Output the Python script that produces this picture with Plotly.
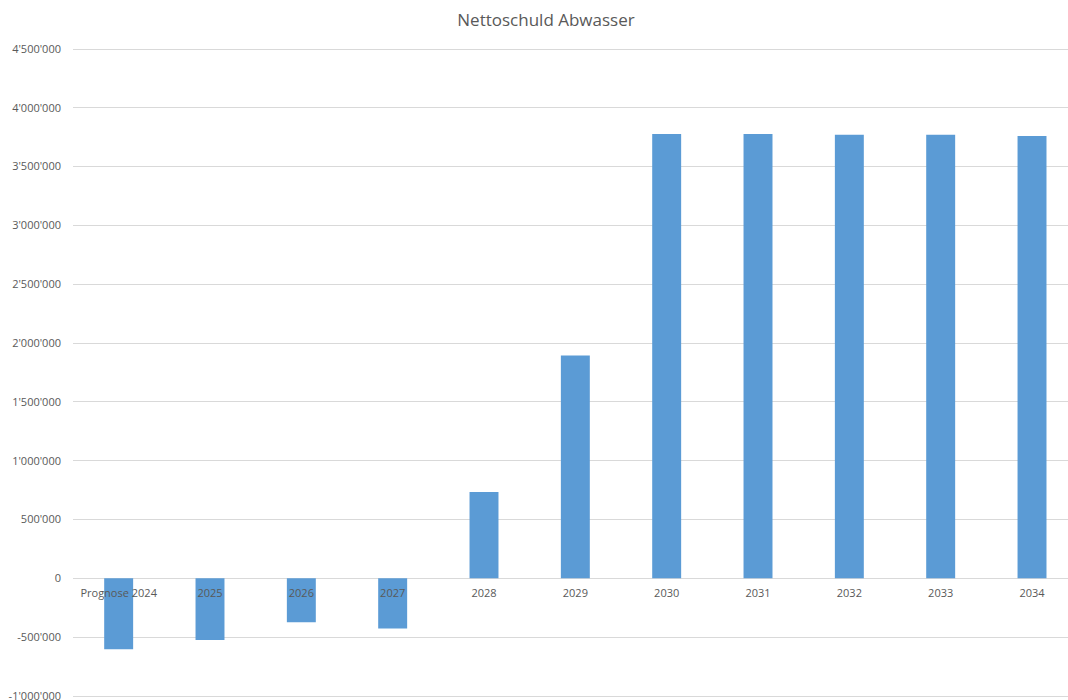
import plotly.graph_objects as go

categories = ["Prognose 2024", "2025", "2026", "2027", "2028", "2029",
              "2030", "2031", "2032", "2033", "2034"]
nettoschuld = [-603000, -523000, -373000, -427000, 734000, 1894000,
               3778000, 3778000, 3770000, 3770000, 3761000]
y_tickvals = [-1000000, -500000, 0, 500000, 1000000, 1500000, 2000000,
              2500000, 3000000, 3500000, 4000000, 4500000]
y_ticktext = ["-1'000'000", "-500'000", "0", "500'000", "1'000'000", "1'500'000",
              "2'000'000", "2'500'000", "3'000'000", "3'500'000", "4'000'000", "4'500'000"]

pad = 25500
ymin, ymax = -1000000 - pad, 4500000 + pad

fig = go.Figure(go.Bar(
    x=categories, y=nettoschuld,
    marker=dict(color="#5B9BD5", line=dict(width=0)),
    width=0.317,
))

font = "Open Sans"
fig.update_layout(
    width=1068, height=700,
    paper_bgcolor="white", plot_bgcolor="white",
    margin=dict(l=73, r=0, t=46, b=1, autoexpand=False),
    showlegend=False,
    title=dict(text="Nettoschuld Abwasser", x=546 / 1068, xanchor="center",
               y=1 - 20 / 700, yanchor="middle", automargin=False,
               font=dict(family=font, size=17, color="#595959")),
    xaxis=dict(
        type="category", range=[-0.5, 10.394], automargin=False,
        anchor="free", position=(0 - ymin) / (ymax - ymin),
        showgrid=False, showline=False, zeroline=False,
        ticks="", ticklabelstandoff=7,
        tickfont=dict(family=font, size=11, color="#595959"),
    ),
    yaxis=dict(
        range=[ymin, ymax], tickvals=y_tickvals, ticktext=y_ticktext,
        automargin=False,
        showgrid=True, gridcolor="#D9D9D9", gridwidth=1,
        zeroline=True, zerolinecolor="#D9D9D9", zerolinewidth=1,
        showline=False, ticks="", ticklabelstandoff=11,
        ticklabeloverflow="allow",
        tickfont=dict(family=font, size=11, color="#595959"),
    ),
)

fig.write_html(
    "out.html",
    config={"displayModeBar": False},
    post_script="document.body.style.margin='0';document.body.style.overflow='hidden';",
)
